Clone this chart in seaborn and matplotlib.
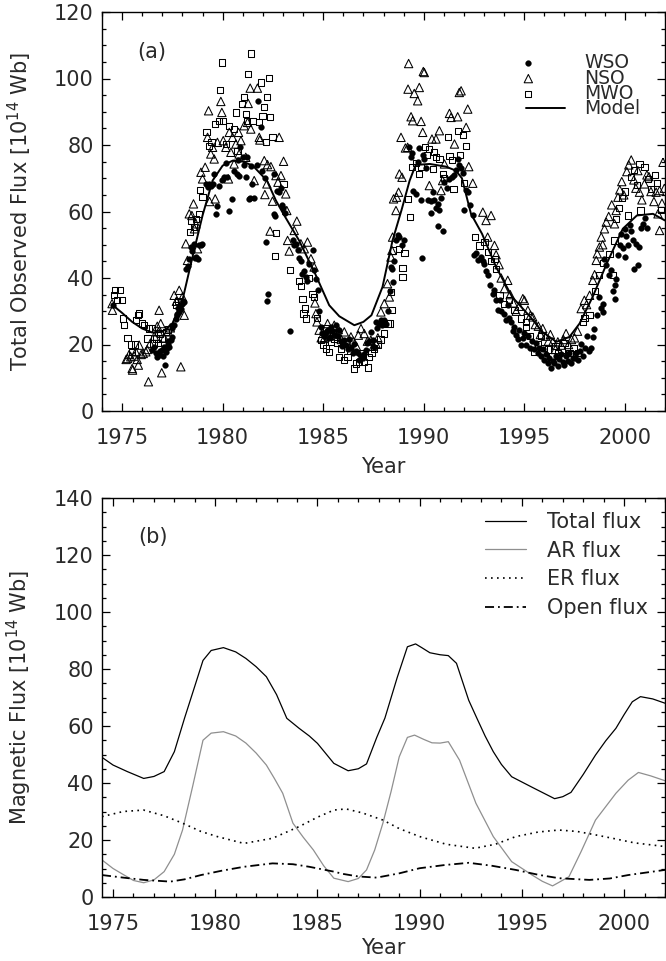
import numpy as np
import pandas as pd
import matplotlib
matplotlib.use("Agg")
import matplotlib.pyplot as plt
from matplotlib.ticker import MultipleLocator
from matplotlib.collections import PathCollection
from matplotlib.legend_handler import HandlerPathCollection
import seaborn as sns

# ---------------- Panel (a) data ----------------
wso_year = [1974.55,
 1976.50, 1976.60, 1976.68, 1976.76, 1976.84, 1976.90, 1976.97, 1977.05, 1977.09, 1977.14, 1977.17, 1977.22,
 1977.26, 1977.30, 1977.34, 1977.42, 1977.47, 1977.50, 1977.54, 1977.60, 1977.67, 1977.72, 1977.75, 1977.80,
 1977.84, 1977.92, 1977.96, 1978.03, 1978.09, 1978.20, 1978.30, 1978.34, 1978.42, 1978.50, 1978.58, 1978.62,
 1978.67, 1978.75, 1978.83, 1978.90, 1978.97, 1979.16, 1979.25, 1979.33, 1979.42, 1979.50, 1979.58, 1979.66,
 1979.74, 1979.83, 1979.95, 1980.08, 1980.16, 1980.24, 1980.33, 1980.46, 1980.57, 1980.69, 1980.75, 1980.82,
 1980.87, 1980.99, 1981.07, 1981.15, 1981.20, 1981.32, 1981.35, 1981.40, 1981.48, 1981.57, 1981.70, 1981.77,
 1981.90, 1981.98, 1982.10, 1982.15, 1982.20, 1982.26, 1982.56, 1982.56, 1982.62, 1982.70, 1982.81, 1982.88,
 1982.93, 1983.00, 1983.10, 1983.36, 1983.48, 1983.55, 1983.64, 1983.73, 1983.80, 1983.90, 1983.97, 1984.05,
 1984.14, 1984.22, 1984.30, 1984.47, 1984.55, 1984.64, 1984.72, 1984.80, 1984.89, 1984.95, 1985.05, 1985.14,
 1985.22, 1985.30, 1985.38, 1985.46, 1985.55, 1985.63, 1985.72, 1985.80, 1985.88, 1985.96, 1986.05, 1986.13,
 1986.21, 1986.30, 1986.38, 1986.46, 1986.55, 1986.63, 1986.71, 1986.80, 1986.88, 1986.96, 1987.04, 1987.13,
 1987.20, 1987.29, 1987.37, 1987.46, 1987.54, 1987.62, 1987.70, 1987.79, 1987.87, 1987.95, 1988.04, 1988.12,
 1988.20, 1988.30, 1988.37, 1988.42, 1988.45, 1988.50, 1988.62, 1988.70, 1988.79, 1988.90, 1989.04, 1989.25,
 1989.35, 1989.42, 1989.48, 1989.62, 1989.70, 1989.78, 1989.87, 1989.91, 1989.95, 1990.03, 1990.12, 1990.20,
 1990.36, 1990.36, 1990.45, 1990.53, 1990.60, 1990.70, 1990.70, 1990.78, 1990.85, 1990.98, 1991.03, 1991.15,
 1991.28, 1991.40, 1991.53, 1991.60, 1991.69, 1991.77, 1991.85, 1991.94, 1992.02, 1992.10, 1992.19, 1992.30,
 1992.44, 1992.52, 1992.60, 1992.70, 1992.85, 1992.95, 1993.02, 1993.10, 1993.18, 1993.30, 1993.43, 1993.50,
 1993.60, 1993.70, 1993.77, 1993.85, 1994.01, 1994.10, 1994.18, 1994.26, 1994.34, 1994.42, 1994.51, 1994.60,
 1994.68, 1994.76, 1994.84, 1994.92, 1995.00, 1995.10, 1995.20, 1995.30, 1995.40, 1995.50, 1995.58, 1995.67,
 1995.75, 1995.83, 1995.92, 1996.00, 1996.08, 1996.17, 1996.25, 1996.34, 1996.42, 1996.50, 1996.58, 1996.67,
 1996.75, 1996.84, 1996.92, 1997.00, 1997.08, 1997.17, 1997.25, 1997.33, 1997.42, 1997.50, 1997.58, 1997.66,
 1997.75, 1997.83, 1997.92, 1998.00, 1998.10, 1998.20, 1998.33, 1998.41, 1998.49, 1998.60, 1998.74, 1998.82,
 1998.91, 1998.91, 1998.99, 1999.08, 1999.20, 1999.30, 1999.40, 1999.49, 1999.49, 1999.57, 1999.66, 1999.74,
 1999.82, 1999.90, 1999.99, 2000.00, 2000.08, 2000.15, 2000.25, 2000.32, 2000.40, 2000.48, 2000.57, 2000.65,
 2000.73, 2000.82, 2000.90, 2001.00, 2001.10]
wso_flux = [32.0,
 18.3, 19.3, 17.3, 16.3, 16.8, 18.0, 18.3, 16.5, 19.3, 13.8, 17.8, 18.8,
 20.3, 21.0, 19.3, 21.3, 22.3, 25.0, 25.8, 26.0, 27.8, 29.0, 29.3, 31.0,
 29.8, 30.8, 32.3, 33.0, 32.8, 42.8, 43.5, 45.8, 49.3, 48.0, 50.3, 46.0,
 46.3, 45.8, 49.8, 50.0, 50.3, 68.3, 67.5, 68.3, 67.8, 68.3, 71.3, 59.3,
 61.8, 67.8, 69.5, 70.5, 74.5, 70.3, 60.3, 63.8, 72.3, 71.3, 75.5, 70.8,
 79.3, 76.3, 74.0, 70.3, 76.3, 63.8, 64.1, 73.8, 68.3, 64.1, 74.1, 93.1,
 85.5, 72.3, 70.0, 50.8, 33.1, 35.3, 71.3, 59.3, 58.5, 66.3, 65.8, 67.0,
 62.0, 61.0, 59.5, 24.1, 51.3, 50.0, 50.3, 48.3, 46.0, 45.0, 41.3, 42.0,
 40.3, 39.0, 44.3, 48.3, 42.3, 39.8, 36.3, 30.0, 25.3, 23.5, 22.5, 23.8,
 24.5, 22.0, 25.3, 24.0, 23.0, 25.8, 22.5, 24.3, 21.0, 19.5, 21.3, 20.0,
 18.5, 21.8, 19.0, 17.5, 20.3, 18.0, 17.3, 15.3, 16.5, 15.8, 17.0, 18.3,
 20.5, 21.0, 23.8, 21.5, 19.3, 26.8, 25.0, 26.3, 27.3, 26.0, 27.5, 26.3,
 30.0, 36.0, 43.3, 42.8, 38.8, 45.0, 51.3, 52.8, 52.3, 50.0, 51.3, 79.5,
 76.5, 77.5, 66.3, 65.3, 75.0, 79.1, 63.5, 46.1, 77.1, 75.8, 73.0, 63.5,
 63.1, 59.5, 66.0, 63.5, 61.0, 62.3, 55.5, 60.5, 64.0, 54.0, 68.8, 67.0,
 69.8, 70.5, 71.1, 72.5, 75.8, 74.1, 73.0, 71.5, 60.5, 66.5, 65.8, 62.0,
 58.8, 46.8, 47.5, 45.5, 46.3, 45.0, 44.3, 42.0, 40.8, 38.0, 35.3, 36.5,
 33.5, 30.5, 33.3, 30.0, 29.3, 27.5, 31.8, 28.0, 26.8, 24.0, 25.3, 23.0,
 21.8, 24.5, 19.8, 22.0, 23.5, 20.0, 22.5, 19.0, 21.0, 18.5, 20.5, 17.3,
 19.0, 16.5, 18.5, 15.3, 17.0, 14.5, 16.0, 12.8, 15.0, 14.3, 16.5, 13.5,
 15.5, 17.0, 14.8, 13.8, 16.5, 15.0, 17.5, 14.3, 16.0, 15.8, 17.5, 15.3,
 18.0, 20.3, 16.5, 19.0, 22.5, 18.0, 18.8, 22.3, 24.8, 29.0, 34.3, 31.0,
 29.8, 32.3, 45.8, 44.0, 41.0, 42.5, 36.0, 37.8, 33.8, 39.8, 47.0, 50.0,
 53.3, 49.0, 46.3, 54.8, 52.5, 49.8, 56.0, 54.0, 51.5, 42.8, 50.3, 43.8,
 49.3, 55.0, 56.3, 58.0, 55.0]

nso_year = [1974.50, 1974.52, 1975.20, 1975.27, 1975.35, 1975.43, 1975.50, 1975.52, 1975.60, 1975.68, 1975.75,
 1975.81, 1975.85, 1975.95, 1976.05, 1976.18, 1976.25, 1976.31, 1976.40, 1976.60, 1976.75, 1976.81, 1976.84,
 1976.92, 1976.97, 1977.10, 1977.26, 1977.40, 1977.59, 1977.70, 1977.84, 1977.92, 1978.00, 1978.09, 1978.17,
 1978.25, 1978.34, 1978.47, 1978.55, 1978.60, 1978.67, 1978.75, 1978.92, 1979.00, 1979.13, 1979.25, 1979.30,
 1979.35, 1979.41, 1979.50, 1979.58, 1979.63, 1979.74, 1979.91, 1979.96, 1980.03, 1980.16, 1980.29, 1980.33,
 1980.41, 1980.49, 1980.57, 1980.66, 1980.79, 1980.82, 1980.91, 1981.07, 1981.15, 1981.24, 1981.27, 1981.37,
 1981.40, 1981.57, 1981.73, 1981.82, 1981.85, 1982.07, 1982.10, 1982.20, 1982.23, 1982.36, 1982.40, 1982.48,
 1982.65, 1982.75, 1982.81, 1982.90, 1983.03, 1983.14, 1983.19, 1983.23, 1983.31, 1983.56, 1983.69, 1983.89,
 1984.06, 1984.22, 1984.39, 1984.55, 1984.59, 1984.64, 1984.69, 1984.80, 1984.90, 1985.05, 1985.15, 1985.22,
 1985.30, 1985.40, 1985.55, 1985.65, 1985.75, 1985.90, 1986.05, 1986.20, 1986.38, 1986.50, 1986.65, 1986.75,
 1986.88, 1987.04, 1987.20, 1987.37, 1987.50, 1987.62, 1987.72, 1987.87, 1988.04, 1988.20, 1988.29, 1988.37,
 1988.42, 1988.45, 1988.50, 1988.62, 1988.65, 1988.75, 1988.79, 1988.87, 1988.92, 1989.09, 1989.20, 1989.22,
 1989.25, 1989.37, 1989.45, 1989.53, 1989.70, 1989.78, 1989.87, 1989.95, 1989.98, 1990.03, 1990.28, 1990.41,
 1990.61, 1990.78, 1990.86, 1990.94, 1991.03, 1991.28, 1991.36, 1991.53, 1991.69, 1991.77, 1991.86, 1992.11,
 1992.19, 1992.24, 1992.44, 1992.94, 1993.10, 1993.18, 1993.35, 1993.52, 1993.60, 1993.75, 1993.85, 1994.01,
 1994.18, 1994.30, 1994.45, 1994.60, 1994.75, 1994.93, 1995.01, 1995.18, 1995.31, 1995.42, 1995.55, 1995.70,
 1995.80, 1995.92, 1996.05, 1996.20, 1996.30, 1996.42, 1996.55, 1996.67, 1996.84, 1996.95, 1997.08, 1997.20,
 1997.35, 1997.50, 1997.65, 1997.83, 1997.99, 1998.10, 1998.25, 1998.41, 1998.50, 1998.58, 1998.63, 1998.74,
 1998.83, 1998.90, 1998.99, 1999.08, 1999.20, 1999.35, 1999.49, 1999.57, 1999.66, 1999.75, 1999.85, 1999.95,
 2000.10, 2000.20, 2000.32, 2000.45, 2000.55, 2000.65, 2000.73, 2000.85, 2000.98, 2001.10, 2001.20, 2001.30,
 2001.45, 2001.56, 2001.65, 2001.73, 2001.73, 2001.85, 2001.90, 2001.97]
nso_flux = [32.3, 30.3, 15.5, 15.8, 17.0, 16.3, 12.8, 12.3, 16.5, 17.8, 15.5,
 13.8, 19.8, 17.0, 17.3, 17.8, 18.5, 8.8, 20.3, 22.5, 25.5, 23.8, 30.3,
 26.3, 11.5, 22.0, 23.8, 25.0, 34.8, 33.0, 36.3, 13.3, 34.3, 28.8, 50.3,
 45.3, 59.3, 58.8, 62.3, 54.8, 56.3, 48.8, 71.8, 69.8, 73.3, 82.3, 90.3,
 63.0, 77.3, 79.3, 75.8, 63.8, 80.8, 93.1, 89.8, 81.3, 79.3, 69.8, 83.8,
 77.8, 82.3, 74.3, 80.3, 83.8, 77.3, 81.3, 85.8, 76.3, 86.8, 92.5, 97.1,
 84.8, 69.3, 97.1, 82.3, 81.5, 75.3, 65.1, 68.3, 74.1, 54.1, 73.5, 63.1,
 70.8, 68.8, 82.3, 70.8, 75.1, 65.3, 60.3, 51.3, 48.1, 54.3, 57.1, 50.3,
 48.8, 50.8, 45.8, 43.3, 32.5, 29.3, 26.8, 24.3, 22.0, 21.8, 23.5, 26.3,
 22.5, 24.0, 25.8, 23.0, 24.5, 21.5, 23.8, 20.5, 22.3, 21.0, 19.5, 22.8,
 24.8, 23.3, 21.0, 21.3, 19.5, 20.3, 22.0, 29.8, 32.3, 38.3, 34.3, 46.3,
 48.3, 52.3, 63.8, 60.3, 64.3, 65.8, 71.3, 82.3, 70.3, 79.1, 79.3, 96.8,
 104.5, 88.5, 87.3, 95.5, 93.3, 97.3, 87.1, 83.8, 102.1, 101.8, 67.8, 81.8,
 81.8, 84.3, 66.3, 69.3, 74.3, 89.5, 88.3, 80.3, 88.5, 95.8, 96.3, 85.3,
 90.8, 73.5, 68.5, 59.8, 57.3, 52.3, 58.8, 49.8, 47.0, 44.0, 40.0, 36.8,
 39.3, 35.0, 32.5, 30.0, 31.5, 33.8, 33.3, 30.3, 28.8, 28.3, 26.0, 25.5,
 23.0, 24.8, 22.5, 21.0, 23.0, 20.8, 18.5, 20.8, 19.8, 21.5, 23.3, 20.0,
 21.5, 22.0, 24.0, 30.8, 33.3, 32.0, 34.8, 39.3, 41.0, 45.3, 47.3, 49.3,
 52.3, 50.0, 54.8, 56.8, 58.5, 62.0, 56.3, 60.3, 64.3, 66.5, 69.0, 65.0,
 72.0, 74.0, 75.5, 69.5, 67.0, 72.3, 65.8, 63.5, 68.3, 71.0, 70.5, 66.0,
 63.0, 65.8, 59.3, 66.3, 54.3, 62.5, 74.8, 67.0]

mwo_year = [1974.60, 1974.65, 1974.74, 1974.88, 1974.98, 1975.05, 1975.10, 1975.27, 1975.43, 1975.50, 1975.65,
 1975.70, 1975.78, 1975.85, 1975.98, 1976.10, 1976.26, 1976.34, 1976.50, 1976.56, 1976.68, 1976.80, 1976.90,
 1977.00, 1977.17, 1977.30, 1977.67, 1977.80, 1977.92, 1978.37, 1978.42, 1978.58, 1978.67, 1978.83, 1978.88,
 1979.00, 1979.20, 1979.33, 1979.45, 1979.63, 1979.80, 1979.86, 1979.96, 1980.03, 1980.16, 1980.33, 1980.57,
 1980.66, 1980.74, 1980.96, 1981.07, 1981.15, 1981.20, 1981.27, 1981.40, 1981.48, 1981.82, 1981.90, 1981.98,
 1982.07, 1982.15, 1982.20, 1982.31, 1982.36, 1982.48, 1982.60, 1982.65, 1983.03, 1983.36, 1983.81, 1983.89,
 1983.97, 1984.02, 1984.09, 1984.14, 1984.30, 1984.47, 1984.55, 1984.70, 1984.89, 1985.00, 1985.14, 1985.14,
 1985.30, 1985.38, 1985.47, 1985.55, 1985.70, 1985.80, 1985.88, 1986.05, 1986.21, 1986.35, 1986.55, 1986.63,
 1986.80, 1986.90, 1987.04, 1987.24, 1987.29, 1987.40, 1987.54, 1987.70, 1987.85, 1988.04, 1988.20, 1988.32,
 1988.37, 1988.42, 1988.46, 1988.79, 1988.95, 1988.95, 1989.04, 1989.20, 1989.32, 1989.42, 1989.60, 1989.78,
 1989.87, 1990.07, 1990.15, 1990.28, 1990.45, 1990.53, 1990.61, 1990.78, 1990.94, 1991.00, 1991.19, 1991.28,
 1991.40, 1991.48, 1991.69, 1991.80, 1991.94, 1992.02, 1992.11, 1992.57, 1992.77, 1993.02, 1993.18, 1993.35,
 1993.52, 1993.60, 1993.77, 1994.01, 1994.26, 1994.51, 1994.84, 1995.09, 1995.09, 1995.30, 1995.51, 1995.70,
 1995.85, 1996.00, 1996.20, 1996.40, 1996.55, 1996.67, 1996.85, 1997.00, 1997.25, 1997.45, 1997.66, 1997.91,
 1998.00, 1998.25, 1998.50, 1998.70, 1998.90, 1999.24, 1999.41, 1999.49, 1999.57, 1999.70, 1999.85, 2000.00,
 2000.15, 2000.32, 2000.45, 2000.60, 2000.73, 2000.78, 2000.98, 2001.15, 2001.32, 2001.50, 2001.60, 2001.80]
mwo_flux = [34.8, 36.5, 33.3, 36.3, 33.5, 27.8, 25.8, 22.0, 20.0, 17.8, 20.0,
 27.3, 28.8, 29.3, 26.3, 25.8, 21.8, 24.8, 24.8, 20.3, 21.8, 20.5, 23.3,
 21.8, 23.8, 24.5, 31.8, 33.0, 32.8, 53.8, 57.3, 55.3, 57.8, 59.3, 66.5,
 64.3, 83.8, 79.8, 81.0, 86.3, 87.1, 96.5, 104.8, 87.3, 80.3, 85.8, 84.8,
 89.8, 78.3, 92.3, 94.5, 89.3, 87.3, 101.3, 107.5, 87.3, 86.8, 98.8, 88.8,
 91.5, 80.8, 94.5, 100.1, 88.5, 82.5, 46.5, 53.5, 68.3, 42.3, 39.1, 37.5,
 33.8, 29.3, 30.8, 27.8, 40.0, 35.3, 34.3, 28.0, 21.3, 20.0, 24.8, 18.8,
 17.8, 20.8, 23.3, 21.8, 20.5, 16.3, 18.8, 15.3, 16.3, 18.0, 12.8, 14.3,
 14.8, 17.5, 14.8, 13.1, 16.3, 17.5, 18.8, 20.0, 21.5, 23.3, 26.3, 26.3,
 35.8, 30.3, 48.3, 48.8, 43.1, 40.3, 47.5, 63.8, 58.3, 73.3, 74.5, 71.3,
 73.3, 79.3, 77.0, 78.8, 72.8, 77.8, 76.3, 75.8, 71.3, 70.0, 82.3, 76.8,
 75.5, 66.8, 84.3, 77.0, 83.1, 68.5, 79.8, 52.3, 49.8, 50.8, 47.8, 45.0,
 45.8, 42.8, 34.8, 32.1, 33.3, 30.3, 27.8, 25.3, 26.8, 22.5, 17.8, 20.0,
 22.5, 19.0, 18.5, 16.5, 19.5, 17.3, 18.5, 20.5, 17.5, 19.0, 17.5, 26.8,
 28.0, 28.8, 36.0, 41.0, 44.5, 47.3, 40.8, 51.3, 57.8, 61.0, 64.0, 66.0,
 58.8, 70.3, 72.5, 68.0, 74.3, 60.3, 73.3, 69.8, 66.8, 71.0, 68.5, 60.5]

model_year = [1974.6, 1975.0, 1975.5, 1976.0, 1976.5, 1977.0, 1977.5, 1978.0, 1978.5, 1979.0, 1979.5,
 1980.0, 1980.5, 1981.0, 1981.5, 1982.2, 1982.65, 1983.0, 1983.8, 1984.6, 1985.3, 1985.8, 1986.55,
 1987.0, 1987.4, 1987.95, 1988.45, 1988.9, 1989.3, 1989.6, 1990.3, 1991.1, 1991.6, 1991.9, 1992.35,
 1992.9, 1993.6, 1994.4, 1995.3, 1995.9, 1996.6, 1997.25, 1997.75, 1998.4, 1999.1, 1999.9, 2000.6,
 2001.4, 2002.0]
model_flux = [31.5, 29.5, 26.8, 24.8, 23.6, 23.8, 26.3, 33.3, 46.3, 58.8, 69.3,
 73.8, 75.3, 75.0, 73.8, 69.3, 63.3, 59.5, 51.3, 41.3, 31.8, 28.5, 25.8,
 26.8, 28.8, 37.3, 51.3, 60.5, 69.3, 74.0, 74.3, 73.5, 72.3, 70.0, 59.3,
 53.3, 43.3, 34.3, 28.3, 23.8, 20.8, 22.3, 26.3, 34.3, 44.3, 54.8, 58.8,
 59.3, 57.3]

# ---------------- Panel (b) data ----------------
total_year = [1974.46, 1975.0, 1975.7, 1976.5, 1977.0, 1977.5, 1978.0, 1978.5, 1979.0, 1979.4, 1979.8, 1980.4,
 1981.0, 1981.5, 1982.0, 1982.5, 1983.0, 1983.5, 1984.1, 1984.6, 1985.0, 1985.8, 1986.5, 1987.0, 1987.4,
 1987.9, 1988.3, 1988.9, 1989.4, 1989.8, 1990.1, 1990.5, 1991.0, 1991.4, 1991.8, 1992.4, 1992.8, 1993.2,
 1993.6, 1994.0, 1994.5, 1995.5, 1996.6, 1997.0, 1997.4, 1998.0, 1998.6, 1999.1, 1999.6, 2000.0, 2000.4,
 2000.8, 2001.4, 2002.0]
total_flux = [49.0, 46.3, 44.0, 41.6, 42.3, 44.0, 51.0, 62.8, 74.0, 83.0, 86.5, 87.5,
 86.0, 83.7, 80.8, 77.3, 71.0, 62.7, 59.2, 56.5, 53.9, 46.9, 44.3, 45.0, 46.7,
 56.0, 62.8, 77.0, 87.8, 88.8, 87.5, 85.7, 85.0, 84.7, 82.0, 69.0, 62.7, 56.5,
 51.0, 46.5, 42.2, 38.5, 34.5, 35.2, 36.7, 43.0, 49.8, 54.8, 59.2, 64.0, 68.5,
 70.3, 69.5, 68.0]

ar_year = [1974.46, 1975.0, 1975.4, 1976.0, 1976.5, 1977.0, 1977.5, 1978.0, 1978.4, 1978.9, 1979.4, 1979.8,
 1980.4, 1981.0, 1981.5, 1982.0, 1982.5, 1982.9, 1983.3, 1983.8, 1984.3, 1984.8, 1985.3, 1985.8, 1986.5,
 1987.0, 1987.4, 1987.8, 1988.2, 1988.6, 1989.0, 1989.4, 1989.75, 1990.2, 1990.6, 1991.0, 1991.4, 1991.95,
 1992.75, 1993.6, 1994.5, 1995.5, 1996.0, 1996.5, 1997.3, 1997.9, 1998.6, 1999.6, 2000.2, 2000.7, 2001.3,
 2002.0]
ar_flux = [13.0, 10.0, 8.3, 5.8, 5.0, 6.0, 8.9, 15.0, 23.5, 39.0, 55.0, 57.5,
 58.0, 56.5, 54.0, 50.5, 46.3, 41.5, 36.4, 25.9, 21.0, 16.5, 11.0, 6.6, 5.4,
 6.5, 9.5, 16.5, 25.9, 37.0, 49.2, 56.0, 56.8, 55.3, 54.1, 54.0, 54.5, 48.0,
 32.9, 21.2, 12.4, 7.7, 5.5, 3.9, 7.1, 16.0, 27.0, 36.4, 41.0, 43.7, 42.5,
 40.8]

er_year = [1974.46, 1975.5, 1976.5, 1977.5, 1978.4, 1979.3, 1980.1, 1981.4, 1982.8, 1984.1, 1985.0, 1985.8,
 1986.4, 1987.2, 1988.2, 1989.0, 1990.0, 1991.3, 1992.7, 1993.7, 1994.7, 1995.8, 1996.8, 1997.7, 1998.6,
 1999.5, 2000.5, 2002.0]
er_flux = [28.2, 30.0, 30.5, 28.5, 25.9, 23.0, 21.2, 18.8, 20.6, 24.7, 28.0, 30.5,
 30.9, 29.5, 27.0, 24.0, 21.2, 18.5, 17.1, 18.5, 21.2, 22.8, 23.5, 23.0, 21.8,
 20.5, 19.0, 17.7]

open_year = [1974.46, 1975.5, 1976.5, 1977.8, 1978.5, 1979.3, 1980.3, 1981.4, 1982.8, 1983.8, 1984.6, 1985.8,
 1986.25, 1987.0, 1987.9, 1989.0, 1990.0, 1991.2, 1992.4, 1993.5, 1994.7, 1995.8, 1996.8, 1998.3, 1999.3,
 2000.2, 2001.1, 2002.0]
open_flux = [7.7, 6.8, 6.0, 5.4, 6.2, 7.7, 9.2, 10.6, 11.8, 11.5, 10.6, 8.9,
 8.1, 7.2, 6.8, 8.3, 10.1, 11.2, 12.0, 11.0, 9.5, 7.8, 6.6, 6.0, 6.5,
 7.7, 8.6, 9.5]


class LeftMarkerHandler(HandlerPathCollection):
    """Legend handler that draws the scatter marker at the left end of the key."""
    def get_xdata(self, legend, xdescent, ydescent, width, height, fontsize):
        return [-xdescent, -xdescent + width], [-xdescent + 0.06 * width]


# ---------------- Style ----------------
sns.set_theme(style="ticks")
plt.rcParams['font.family'] = ['DejaVu Sans']
TXT = '#2a2a2a'
plt.rcParams.update({
    'axes.edgecolor': 'black', 'axes.linewidth': 1.0,
    'xtick.color': 'black', 'ytick.color': 'black',
    'xtick.labelcolor': TXT, 'ytick.labelcolor': TXT,
    'axes.labelcolor': TXT, 'text.color': TXT,
})

fig = plt.figure(figsize=(6.66, 9.61), dpi=100)
W, H = 666.0, 961.0
axa = fig.add_axes([102 / W, 1 - 411 / H, 563 / W, 399 / H])
axb = fig.add_axes([102 / W, 1 - 897 / H, 563 / W, 399 / H])

wso = pd.DataFrame({'year': wso_year, 'flux': wso_flux})
nso = pd.DataFrame({'year': nso_year, 'flux': nso_flux})
mwo = pd.DataFrame({'year': mwo_year, 'flux': mwo_flux})
model = pd.DataFrame({'year': model_year, 'flux': model_flux})

sns.scatterplot(data=wso, x='year', y='flux', ax=axa, marker='o', s=17, color='black',
                edgecolor='black', linewidth=0.3, label='WSO', zorder=3)
sns.scatterplot(data=nso, x='year', y='flux', ax=axa, marker='^', s=36, facecolors='none',
                edgecolor='black', linewidth=0.75, label='NSO', zorder=3)
sns.scatterplot(data=mwo, x='year', y='flux', ax=axa, marker='s', s=20, facecolors='none',
                edgecolor='black', linewidth=0.75, label='MWO', zorder=3)
sns.lineplot(data=model, x='year', y='flux', ax=axa, color='black', lw=1.4, sort=False,
             estimator=None, label='Model', zorder=4)

tot = pd.DataFrame({'year': total_year, 'flux': total_flux})
ar = pd.DataFrame({'year': ar_year, 'flux': ar_flux})
er = pd.DataFrame({'year': er_year, 'flux': er_flux})
op = pd.DataFrame({'year': open_year, 'flux': open_flux})
sns.lineplot(data=tot, x='year', y='flux', ax=axb, color='black', lw=0.9, sort=False,
             estimator=None, label='Total flux')
sns.lineplot(data=ar, x='year', y='flux', ax=axb, color='#8f8f8f', lw=0.9, sort=False,
             estimator=None, label='AR flux')
sns.lineplot(data=er, x='year', y='flux', ax=axb, color='black', lw=1.2, sort=False,
             estimator=None, label='ER flux', linestyle=(0, (1, 2.6)))
sns.lineplot(data=op, x='year', y='flux', ax=axb, color='black', lw=1.3, sort=False,
             estimator=None, label='Open flux', linestyle=(0, (5, 2.2, 1, 2.2)))

for ax in (axa, axb):
    ax.xaxis.set_major_locator(MultipleLocator(5))
    ax.xaxis.set_minor_locator(MultipleLocator(1))
    ax.yaxis.set_major_locator(MultipleLocator(20))
    ax.yaxis.set_minor_locator(MultipleLocator(5))
    ax.tick_params(which='both', direction='in', top=True, right=True, width=0.9)
    ax.tick_params(which='major', length=6, labelsize=15)
    ax.tick_params(which='minor', length=3)
    ax.tick_params(axis='x', which='major', pad=12)
    ax.tick_params(axis='y', which='major', pad=6)
    for sp in ax.spines.values():
        sp.set_visible(True)
        sp.set_linewidth(1.0)

axa.set_xlabel('Year', fontsize=15, labelpad=7)
axb.set_xlabel('Year', fontsize=15, labelpad=3)

axa.set_xlim(1974.0, 2002.0)
axa.set_ylim(0, 120)
axb.set_xlim(1974.46, 2002.0)
axb.set_ylim(0, 140)

axa.set_ylabel('Total Observed Flux [10$^{14}$ Wb]', fontsize=15)
axb.set_ylabel('Magnetic Flux [10$^{14}$ Wb]', fontsize=15)
axa.yaxis.set_label_coords(-0.121, 0.5)
axb.yaxis.set_label_coords(-0.121, 0.5)

axa.text(0.089, 0.90, '(a)', transform=axa.transAxes, fontsize=15, ha='center', va='center')
axb.text(0.0906, 0.902, '(b)', transform=axb.transAxes, fontsize=15, ha='center', va='center')

leg_a = axa.legend(loc='upper right', bbox_to_anchor=(0.956, 0.897), frameon=False,
                   fontsize=13.5, labelspacing=-0.19, handlelength=2.1, handletextpad=1.0,
                   borderpad=0, borderaxespad=0, scatterpoints=1, numpoints=1,
                   handler_map={PathCollection: LeftMarkerHandler()})
leg_b = axb.legend(loc='upper right', bbox_to_anchor=(0.97, 0.965), frameon=False,
                   fontsize=15, labelspacing=0.42, handlelength=2.0, handletextpad=1.0,
                   borderpad=0, borderaxespad=0)

fig.savefig('out.png', dpi=100)
